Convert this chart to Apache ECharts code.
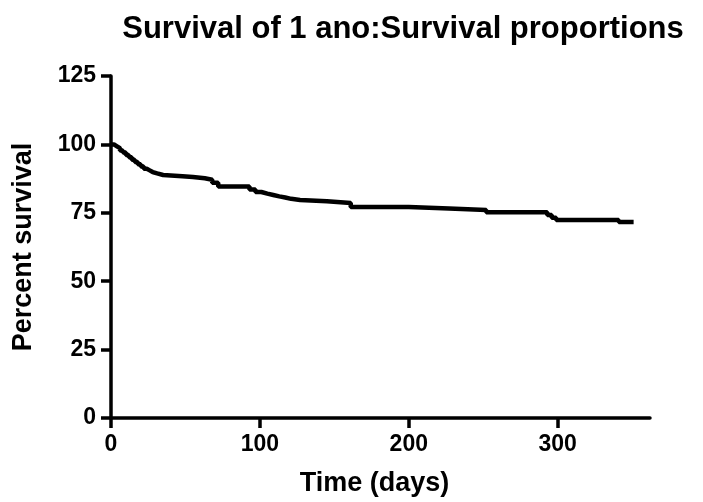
<!DOCTYPE html>
<html>
<head>
<meta charset="utf-8">
<script src="https://cdn.jsdelivr.net/npm/echarts@6/dist/echarts.min.js"></script>
<style>
html,body{margin:0;padding:0;background:#fff;}
#chart{width:703px;height:502px;}
</style>
</head>
<body>
<div id="chart"></div>
<script>
// survival curve (days, percent)
var days = [0, 2, 4, 6, 8, 10, 12, 14, 16, 18, 20, 22, 24, 26, 28, 31, 35, 48, 55, 63, 68, 72, 93, 97, 101, 105, 109, 113, 117, 121, 127, 145, 161, 200, 227, 252, 293, 296, 299, 341, 351];
var survival = [100, 99.3, 98.6, 97.8, 97, 96.1, 95.3, 94.4, 93.6, 92.7, 91.9, 91.1, 90.5, 89.9, 89.4, 88.8, 88.4, 88.1, 87.6, 87.1, 86, 84.6, 83.5, 82.6, 82, 81.5, 81, 80.6, 80.1, 79.7, 79.2, 78.6, 77.1, 76.6, 76, 75.2, 74.2, 73.2, 72.4, 71.6, 71.6];
var xTicks = [0, 100, 200, 300];

var chart = echarts.init(document.getElementById('chart'));

var font = 'Liberation Sans, Arial, sans-serif';

var pts = [];
for (var i = 0; i < days.length; i++) pts.push([days[i], survival[i]]);

var option = {
  animation: false,
  backgroundColor: '#fff',
  title: {
    text: 'Survival of 1 ano:Survival proportions',
    left: 398,
    textAlign: 'center',
    top: 9,
    textStyle: {color: '#000', fontWeight: 'bold', fontSize: 31, fontFamily: font}
  },
  grid: {left: 111, top: 76, right: 53, bottom: 84, outerBoundsMode: 'none', containLabel: false},
  xAxis: {
    type: 'value',
    min: 0,
    max: 362,
    name: 'Time (days)',
    nameLocation: 'middle',
    nameGap: 52,
    nameTextStyle: {color: '#000', fontWeight: 'bold', fontSize: 27, fontFamily: font, padding: [0, 12, 0, 0]},
    axisLine: {onZero: false, lineStyle: {color: '#000', width: 3.5}},
    axisTick: {show: true, length: 10, lineStyle: {color: '#000', width: 3.5}, customValues: xTicks},
    axisLabel: {color: '#000', fontWeight: 'bold', fontSize: 23, fontFamily: font, margin: 15, customValues: xTicks},
    splitLine: {show: false}
  },
  yAxis: {
    type: 'value',
    min: 0,
    max: 125,
    interval: 25,
    name: 'Percent survival',
    nameLocation: 'middle',
    nameGap: 74,
    nameTextStyle: {color: '#000', fontWeight: 'bold', fontSize: 27, fontFamily: font},
    axisLine: {show: true, onZero: false, lineStyle: {color: '#000', width: 3.5}},
    axisTick: {show: true, length: 10, lineStyle: {color: '#000', width: 3.5}},
    axisLabel: {color: '#000', fontWeight: 'bold', fontSize: 23, fontFamily: font, margin: 15},
    splitLine: {show: false}
  },
  series: [{
    type: 'line',
    step: 'end',
    data: pts,
    symbol: 'none',
    lineStyle: {color: '#000', width: 4.5},
    z: 5
  }]
};

chart.setOption(option);
</script>
</body>
</html>
